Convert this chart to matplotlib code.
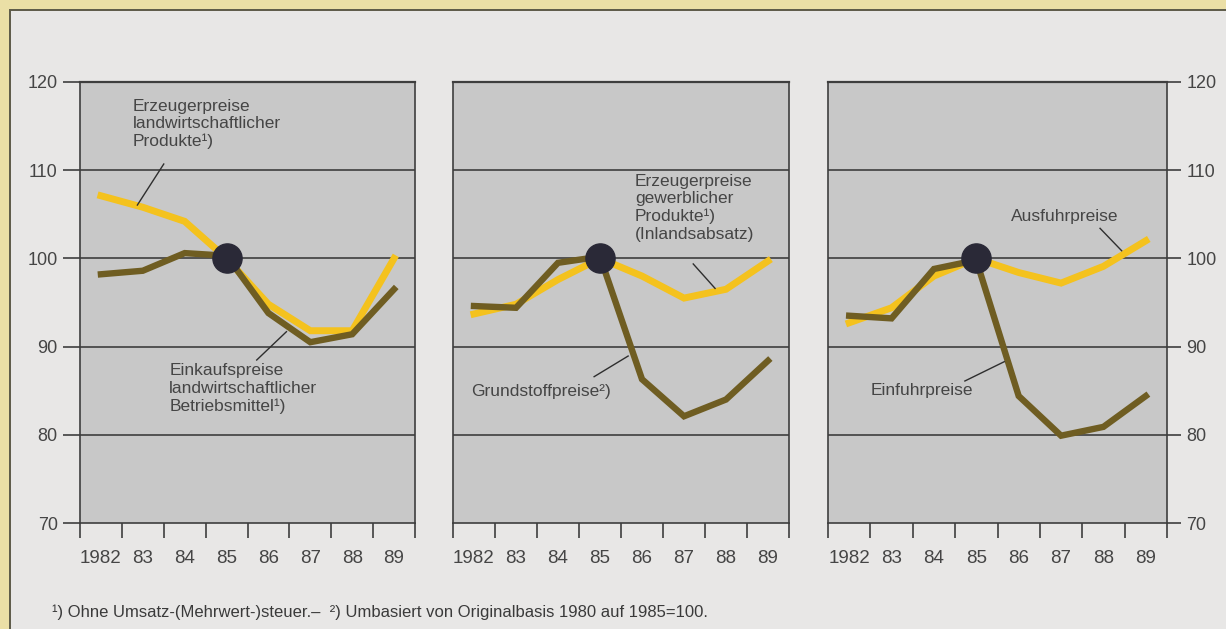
import numpy as np
import matplotlib.pyplot as plt
from matplotlib.patches import Rectangle

plt.rcParams['font.family'] = ['Liberation Sans', 'DejaVu Sans']

# Daten (1985 = 100)
jahre = [1982, 1983, 1984, 1985, 1986, 1987, 1988, 1989]
jahr_labels = ['1982', '83', '84', '85', '86', '87', '88', '89']

erzeuger_landw = [107.1, 105.8, 104.2, 100.0, 94.8, 91.8, 91.8, 100.0]
einkauf_landw = [98.2, 98.6, 100.6, 100.3, 93.8, 90.5, 91.4, 96.5]

erzeuger_gewerbl = [93.7, 94.8, 97.6, 100.0, 98.0, 95.5, 96.5, 99.7]
grundstoff = [94.6, 94.4, 99.5, 100.2, 86.3, 82.1, 84.0, 88.4]

ausfuhr = [92.7, 94.4, 98.0, 100.0, 98.4, 97.2, 99.1, 102.0]
einfuhr = [93.5, 93.2, 98.8, 99.8, 84.4, 79.9, 80.9, 84.4]

y_ticks = [70, 80, 90, 100, 110, 120]

GELB = '#f4c21e'
BRAUN = '#6f5d22'
PUNKT = '#2a2937'
GRID = '#3e3e3e'
TEXT = '#454545'
PANEL = '#c8c8c8'

W, H = 1226, 629
fig = plt.figure(figsize=(W / 100, H / 100), dpi=100)
fig.patch.set_facecolor('#ebdfa6')
fig.patches.append(Rectangle((10 / W, -0.1), 1.2, (H - 10) / H + 0.1,
                             transform=fig.transFigure, facecolor='#e8e7e6',
                             edgecolor='#5d5a48', lw=1.4, zorder=-5))


def panel(x0, x1, gelb, braun, links=False, rechts=False):
    ax = fig.add_axes([x0 / W, (H - 523) / H, (x1 - x0) / W, 441 / H])
    ax.set_facecolor(PANEL)
    ax.set_xlim(1981.5, 1989.5)
    ax.set_ylim(70, 120)
    for v in y_ticks[1:-1]:
        ax.axhline(v, color=GRID, lw=1.2, zorder=1)
    for s in ax.spines.values():
        s.set_color(GRID)
        s.set_linewidth(1.2)
    ax.spines['top'].set_linewidth(1.6)

    ax.plot(jahre, gelb, color=GELB, lw=5.0, solid_joinstyle='miter', zorder=3)
    ax.plot(jahre, braun, color=BRAUN, lw=4.6, solid_joinstyle='miter', zorder=4)
    ax.plot([1985], [100], 'o', ms=21, color=PUNKT, zorder=5)

    ax.set_xticks(np.arange(1981.5, 1990, 1.0))
    ax.set_xticklabels([])
    ax.set_xticks(jahre, minor=True)
    ax.set_xticklabels(jahr_labels, minor=True, fontsize=13.5, color=TEXT)
    ax.tick_params(axis='x', which='major', direction='out', length=11,
                   width=1.2, color=GRID)
    ax.tick_params(axis='x', which='minor', length=0, pad=19.5)

    ax.set_yticks(y_ticks)
    if links:
        ax.tick_params(axis='y', direction='out', length=12, width=1.2,
                       color=GRID, labelsize=13, labelcolor=TEXT, pad=4)
    elif rechts:
        ax.yaxis.tick_right()
        ax.tick_params(axis='y', direction='out', length=10, width=1.2,
                       color=GRID, labelsize=13, labelcolor=TEXT, pad=4)
    else:
        ax.tick_params(axis='y', length=0, labelleft=False)
    return ax


def beschriftung(ax, x, y, txt, linie, va='center'):
    ax.text(x, y, txt, fontsize=12.5, color=TEXT, va=va, ha='left',
            linespacing=1.2, zorder=6)
    ax.plot(linie[0], linie[1], color='#2e2e2e', lw=1.0, zorder=6)


ax1 = panel(80, 415, erzeuger_landw, einkauf_landw, links=True)
beschriftung(ax1, 1982.76, 118.1,
             'Erzeugerpreise\nlandwirtschaftlicher\nProdukte\u00b9)',
             ([1983.5, 1982.87], [110.7, 106.05]), va='top')
beschriftung(ax1, 1983.63, 88.1,
             'Einkaufspreise\nlandwirtschaftlicher\nBetriebsmittel\u00b9)',
             ([1986.43, 1985.72], [91.69, 88.48]), va='top')

ax2 = panel(453, 789, erzeuger_gewerbl, grundstoff)
beschriftung(ax2, 1985.83, 109.6,
             'Erzeugerpreise\ngewerblicher\nProdukte\u00b9)\n(Inlandsabsatz)',
             ([1987.22, 1987.74], [99.37, 96.6]), va='top')
beschriftung(ax2, 1981.92, 84.9, 'Grundstoffpreise\u00b2)',
             ([1984.86, 1985.67], [86.59, 88.93]))

ax3 = panel(828, 1167, ausfuhr, einfuhr, rechts=True)
beschriftung(ax3, 1985.82, 104.8, 'Ausfuhrpreise',
             ([1987.92, 1988.43], [103.41, 100.87]))
beschriftung(ax3, 1982.51, 85.0, 'Einfuhrpreise',
             ([1984.73, 1985.66], [86.1, 88.29]))

fig.text(52 / W, 1 - 612 / H,
         '\u00b9) Ohne Umsatz-(Mehrwert-)steuer.\u2013  \u00b2) Umbasiert von Originalbasis 1980 auf 1985=100.',
         fontsize=12, color='#3a3a3a', va='center', ha='left')

fig.savefig('out.png', dpi=100, facecolor=fig.get_facecolor())
